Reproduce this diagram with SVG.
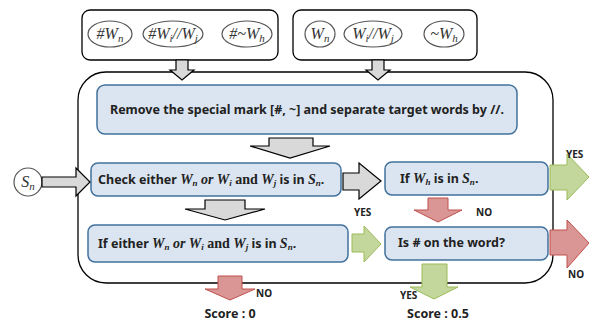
<svg xmlns="http://www.w3.org/2000/svg" width="589" height="325" viewBox="0 0 589 325">
<style>
.frame{fill:#fff;stroke:#000;stroke-width:1.3}
.box{fill:#dbe5f1;stroke:#41719c;stroke-width:1.5}
.oval{fill:#fff;stroke:#555;stroke-width:1.2}
.gray{fill:#d9d9d9;stroke:#000;stroke-width:1.2}
.green{fill:#c3d69b;stroke:#9bbb59;stroke-width:1}
.pink{fill:#d99694;stroke:#c0504d;stroke-width:1}
.t{font-family:"Noto Sans","Open Sans",sans-serif;font-weight:bold;font-size:12.5px;fill:#222}
.m{font-family:"Liberation Serif",serif;font-style:italic;font-size:16px;fill:#333}
.mb{font-family:"Liberation Serif",serif;font-style:italic;font-weight:bold;font-size:14px}
.rb{font-family:"Liberation Serif",serif;font-weight:bold;font-size:14px}
.lbl{font-family:"Noto Sans","Open Sans",sans-serif;font-weight:bold;font-size:10px;fill:#222}
.sc{font-family:"Noto Sans","Open Sans",sans-serif;font-weight:bold;font-size:12.5px;fill:#222}
</style>
<g id="input-marked">
<rect class="frame" x="82" y="10" width="196" height="50" rx="8"/>
<ellipse class="oval" cx="110" cy="34" rx="22" ry="13"/>
<text class="m" x="110" y="39" text-anchor="middle">#W<tspan font-size="11" dy="3">n</tspan></text>
<ellipse class="oval" cx="173" cy="34" rx="30" ry="13"/>
<text class="m" x="173" y="39" text-anchor="middle">#W<tspan font-size="11" dy="3">i</tspan><tspan dy="-3">//W</tspan><tspan font-size="11" dy="3">j</tspan></text>
<ellipse class="oval" cx="247" cy="34" rx="25" ry="13"/>
<text class="m" x="247" y="39" text-anchor="middle">#~W<tspan font-size="11" dy="3">h</tspan></text>
</g>
<g id="input-plain">
<rect class="frame" x="293" y="10" width="184" height="50" rx="8"/>
<ellipse class="oval" cx="320" cy="34" rx="15" ry="13"/>
<text class="m" x="320" y="39" text-anchor="middle">W<tspan font-size="11" dy="3">n</tspan></text>
<ellipse class="oval" cx="373" cy="34" rx="29" ry="13"/>
<text class="m" x="373" y="39" text-anchor="middle">W<tspan font-size="11" dy="3">i</tspan><tspan dy="-3">//W</tspan><tspan font-size="11" dy="3">j</tspan></text>
<ellipse class="oval" cx="444" cy="34" rx="20" ry="13"/>
<text class="m" x="444" y="39" text-anchor="middle">~W<tspan font-size="11" dy="3">h</tspan></text>
</g>
<g id="container">
<rect class="frame" x="78" y="72" width="475" height="211" rx="28"/>
</g>
<g id="sn">
<circle class="oval" cx="28" cy="182" r="14"/>
<text class="m" x="28" y="187" text-anchor="middle">S<tspan font-size="11" dy="3">n</tspan></text>
</g>
<g id="remove">
<rect class="box" x="97" y="85" width="420" height="49" rx="8"/>
<text class="t" x="307" y="114" text-anchor="middle" font-size="13">Remove the special mark [#, ~] and separate target words by //.</text>
</g>
<g id="check">
<rect class="box" x="91" y="163" width="250" height="33" rx="7"/>
<text class="t" x="98" y="184">Check either <tspan class="mb">W<tspan font-size="9" dy="2">n</tspan><tspan dy="-2"> or W</tspan><tspan font-size="9" dy="2">i</tspan></tspan><tspan class="rb" dy="-2"> and </tspan><tspan class="mb">W<tspan font-size="9" dy="2">j</tspan></tspan><tspan dy="-2"> is in </tspan><tspan class="mb" font-weight="normal">S<tspan font-size="9" dy="2">n</tspan></tspan><tspan dy="-2">.</tspan></text>
</g>
<g id="if-wh">
<rect class="box" x="385" y="162" width="163" height="33" rx="7"/>
<text class="t" x="400" y="183">If <tspan class="mb">W<tspan font-size="9" dy="2">h</tspan></tspan><tspan dy="-2"> is in </tspan><tspan class="mb" font-weight="normal">S<tspan font-size="9" dy="2">n</tspan></tspan><tspan dy="-2">.</tspan></text>
</g>
<g id="if-either">
<rect class="box" x="88" y="225" width="260" height="37" rx="7"/>
<text class="t" x="98" y="248">If either <tspan class="mb">W<tspan font-size="9" dy="2">n</tspan><tspan dy="-2"> or W</tspan><tspan font-size="9" dy="2">i</tspan></tspan><tspan class="rb" dy="-2"> and </tspan><tspan class="mb">W<tspan font-size="9" dy="2">j</tspan></tspan><tspan dy="-2"> is in </tspan><tspan class="mb" font-weight="normal">S<tspan font-size="9" dy="2">n</tspan></tspan><tspan dy="-2">.</tspan></text>
</g>
<g id="is-hash">
<rect class="box" x="385" y="227" width="163" height="33" rx="7"/>
<text class="t" x="398" y="247" font-size="11">Is # on the word?</text>
</g>
<g id="connectors">
<polygon class="gray" points="176,60 188,60 188,70 194,70 182,80 170,70 176,70"/>
<polygon class="gray" points="372,60 384,60 384,70 390,70 378,80 366,70 372,70"/>
<polygon class="gray" points="42,177 76,177 76,168 90,182 76,196 76,187 42,187"/>
<polygon class="gray" points="269,138 313,138 313,146 330,146 290,158 250,146 269,146"/>
<polygon class="gray" points="343,173 359,173 359,163 381,181 359,199 359,190 343,190"/>
<polygon class="gray" points="205,200 245,200 245,209 265,209 225,220 185,209 205,209"/>
<polygon class="pink" points="428,198 448,198 448,210 462,210 438,222 414,210 428,210"/>
<polygon class="green" points="352,234 364,234 364,226 381,244 364,262 364,252 352,252"/>
<polygon class="green" points="550,165 567,165 567,154 589,177 567,200 567,190 550,190"/>
<polygon class="pink" points="550,230 567,230 567,220 589,243 567,268 567,255 550,255"/>
<polygon class="pink" points="218,276 242,276 242,289 255,289 230,300 205,289 218,289"/>
<polygon class="green" points="422,264 447,264 447,287 458,287 434,299 410,287 422,287"/>
<text class="lbl" x="566" y="158">YES</text>
<text class="lbl" x="354" y="216">YES</text>
<text class="lbl" x="476" y="216">NO</text>
<text class="lbl" x="568" y="278">NO</text>
<text class="lbl" x="256" y="297">NO</text>
<text class="lbl" x="400" y="299">YES</text>
<text class="sc" x="230" y="318" text-anchor="middle">Score : 0</text>
<text class="sc" x="438" y="318" text-anchor="middle">Score : 0.5</text>
</g>
</svg>
